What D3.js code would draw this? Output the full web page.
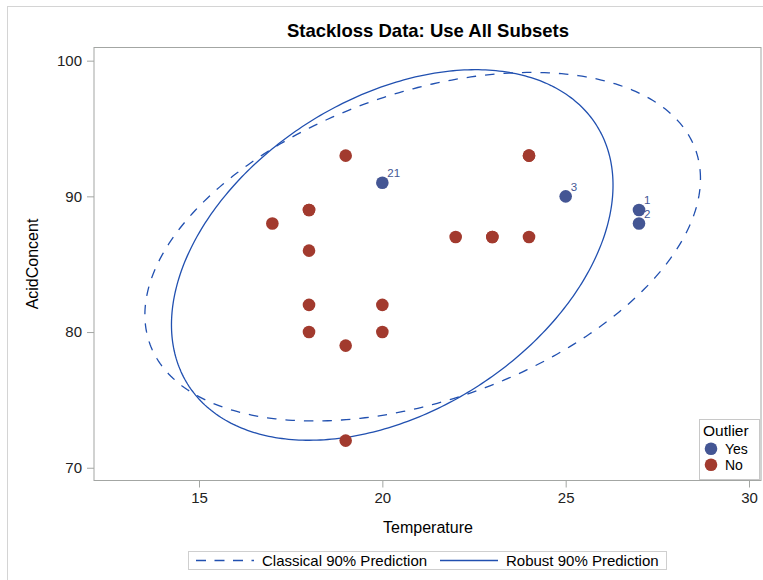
<!DOCTYPE html>
<html>
<head>
<meta charset="utf-8">
<script src="https://cdn.jsdelivr.net/npm/d3@7"></script>
<style>
  html, body { margin: 0; padding: 0; background: #fff; }
  svg { display: block; font-family: "Liberation Sans", Arial, sans-serif; }
</style>
</head>
<body>
<script>
// ---- data ----
const temperature = [27, 27, 25, 24, 22, 23, 24, 24, 23, 18, 18, 17, 18, 19, 18, 18, 19, 19, 20, 20, 20];
const acidConcent = [89, 88, 90, 87, 87, 87, 93, 93, 87, 80, 89, 88, 82, 93, 89, 86, 72, 79, 80, 82, 91];
const outlier = ["Yes","Yes","Yes","No","No","No","No","No","No","No","No","No","No","No","No","No","No","No","No","No","Yes"];
const obsLabel = ["1","2","3","","","","","","","","","","","","","","","","","","21"];
const xTicks = [15, 20, 25, 30];
const yTicks = [70, 80, 90, 100];
const outlierGroups = ["Yes", "No"];
// ellipse parameters: center, covariance [var x, cov, var y], scale
const classicalCenter = [21.10, 86.29];
const classicalCov = [9.99, 6.62, 28.71];
const robustCenter = [20.27, 85.68];
const robustCov = [6.31, 5.39, 32.45];
const predictionScale = 2.397;
const legendItems = ["Classical 90% Prediction", "Robust 90% Prediction"];

const W = 763, H = 580;
const frame = { left: 94, right: 761, top: 47.5, bottom: 480.5 };
const colors = { Yes: "#445694", No: "#A23A2E" };
const ellipseColor = "#2150b0";
const frameColor = "#a3a6a3";

const svg = d3.select("body").append("svg").attr("width", W).attr("height", H);

// outer border
svg.append("rect").attr("x", 7.5).attr("y", 6.5).attr("width", 800).attr("height", 600)
  .attr("fill", "none").attr("stroke", "#d4d4d4").attr("stroke-width", 1);

const x = d3.scaleLinear().domain([12.136, 30.327]).range([frame.left, frame.right]);
const y = d3.scaleLinear().domain([69.06, 100.97]).range([frame.bottom, frame.top]);

// title
svg.append("text").attr("x", 428).attr("y", 37).attr("text-anchor", "middle")
  .attr("font-size", 18.5).attr("font-weight", "bold").attr("fill", "#000")
  .text("Stackloss Data: Use All Subsets");

// frame
svg.append("rect").attr("x", frame.left).attr("y", frame.top)
  .attr("width", frame.right - frame.left).attr("height", frame.bottom - frame.top)
  .attr("fill", "none").attr("stroke", frameColor).attr("stroke-width", 1);

// x axis
const xAxis = svg.append("g").attr("transform", `translate(0,${frame.bottom})`)
  .call(d3.axisBottom(x).tickValues(xTicks).tickSize(7).tickPadding(5).tickFormat(d3.format("d")));
xAxis.select(".domain").remove();
xAxis.selectAll("line").attr("stroke", frameColor);
xAxis.selectAll("text").attr("font-size", 15).attr("fill", "#222").attr("font-family", "Liberation Sans, Arial, sans-serif");

// y axis
const yAxis = svg.append("g").attr("transform", `translate(${frame.left},0)`)
  .call(d3.axisLeft(y).tickValues(yTicks).tickSize(7).tickPadding(5).tickFormat(d3.format("d")));
yAxis.select(".domain").remove();
yAxis.selectAll("line").attr("stroke", frameColor);
yAxis.selectAll("text").attr("font-size", 15).attr("fill", "#222").attr("font-family", "Liberation Sans, Arial, sans-serif");

// axis labels
svg.append("text").attr("x", 428).attr("y", 533).attr("text-anchor", "middle")
  .attr("font-size", 16).attr("fill", "#000").text("Temperature");
svg.append("text").attr("transform", "translate(38,264) rotate(-90)").attr("text-anchor", "middle")
  .attr("font-size", 16).attr("fill", "#000").text("AcidConcent");

// ellipses
function ellipsePoints(center, cov, k) {
  const a = cov[0], b = cov[1], c = cov[2];
  const l11 = Math.sqrt(a), l21 = b / l11, l22 = Math.sqrt(c - l21 * l21);
  return d3.range(0, 361, 1).map(deg => {
    const t = deg * Math.PI / 180;
    const u = Math.cos(t), v = Math.sin(t);
    return [center[0] + k * l11 * u, center[1] + k * (l21 * u + l22 * v)];
  });
}
const line = d3.line().x(d => x(d[0])).y(d => y(d[1])).curve(d3.curveLinearClosed);

svg.append("path").datum(ellipsePoints(classicalCenter, classicalCov, predictionScale))
  .attr("d", line).attr("fill", "none").attr("stroke", ellipseColor)
  .attr("stroke-width", 1.3).attr("stroke-dasharray", "9.5,9");
svg.append("path").datum(ellipsePoints(robustCenter, robustCov, predictionScale))
  .attr("d", line).attr("fill", "none").attr("stroke", ellipseColor)
  .attr("stroke-width", 1.3);

// points
const pts = temperature.map((t, i) => ({ t, a: acidConcent[i], o: outlier[i], lab: obsLabel[i] }));
svg.append("g").selectAll("circle").data(pts).join("circle")
  .attr("cx", d => x(d.t)).attr("cy", d => y(d.a)).attr("r", 6.3)
  .attr("fill", d => colors[d.o]);
svg.append("g").selectAll("text").data(pts.filter(d => d.lab)).join("text")
  .attr("x", d => x(d.t) + 5).attr("y", d => y(d.a) - 5.5)
  .attr("font-size", 11.5).attr("fill", colors.Yes).text(d => d.lab);

// outlier legend (inside, bottom right)
const lg = svg.append("g");
lg.append("rect").attr("x", 699.5).attr("y", 419.5).attr("width", 60).attr("height", 60)
  .attr("fill", "#fff").attr("stroke", "#c8c8c8");
lg.append("text").attr("x", 703).attr("y", 435.5).attr("font-size", 15.5).attr("fill", "#000").text("Outlier");
outlierGroups.forEach((g, i) => {
  const cy = 448.8 + i * 16;
  lg.append("circle").attr("cx", 711).attr("cy", cy).attr("r", 6.3).attr("fill", colors[g]);
  lg.append("text").attr("x", 725).attr("y", cy + 5).attr("font-size", 14).attr("fill", "#000").text(g);
});

// bottom legend
const bl = svg.append("g");
bl.append("rect").attr("x", 188.5).attr("y", 551.5).attr("width", 478).attr("height", 18)
  .attr("fill", "#fff").attr("stroke", "#cfcfcf");
bl.append("line").attr("x1", 196).attr("x2", 254).attr("y1", 560.5).attr("y2", 560.5)
  .attr("stroke", ellipseColor).attr("stroke-width", 1.3).attr("stroke-dasharray", "10,8.5");
bl.append("text").attr("x", 262).attr("y", 566).attr("font-size", 15).attr("fill", "#000").text(legendItems[0]);
bl.append("line").attr("x1", 440).attr("x2", 498).attr("y1", 560.5).attr("y2", 560.5)
  .attr("stroke", ellipseColor).attr("stroke-width", 1.3);
bl.append("text").attr("x", 506).attr("y", 566).attr("font-size", 15).attr("fill", "#000").text(legendItems[1]);
</script>
</body>
</html>
